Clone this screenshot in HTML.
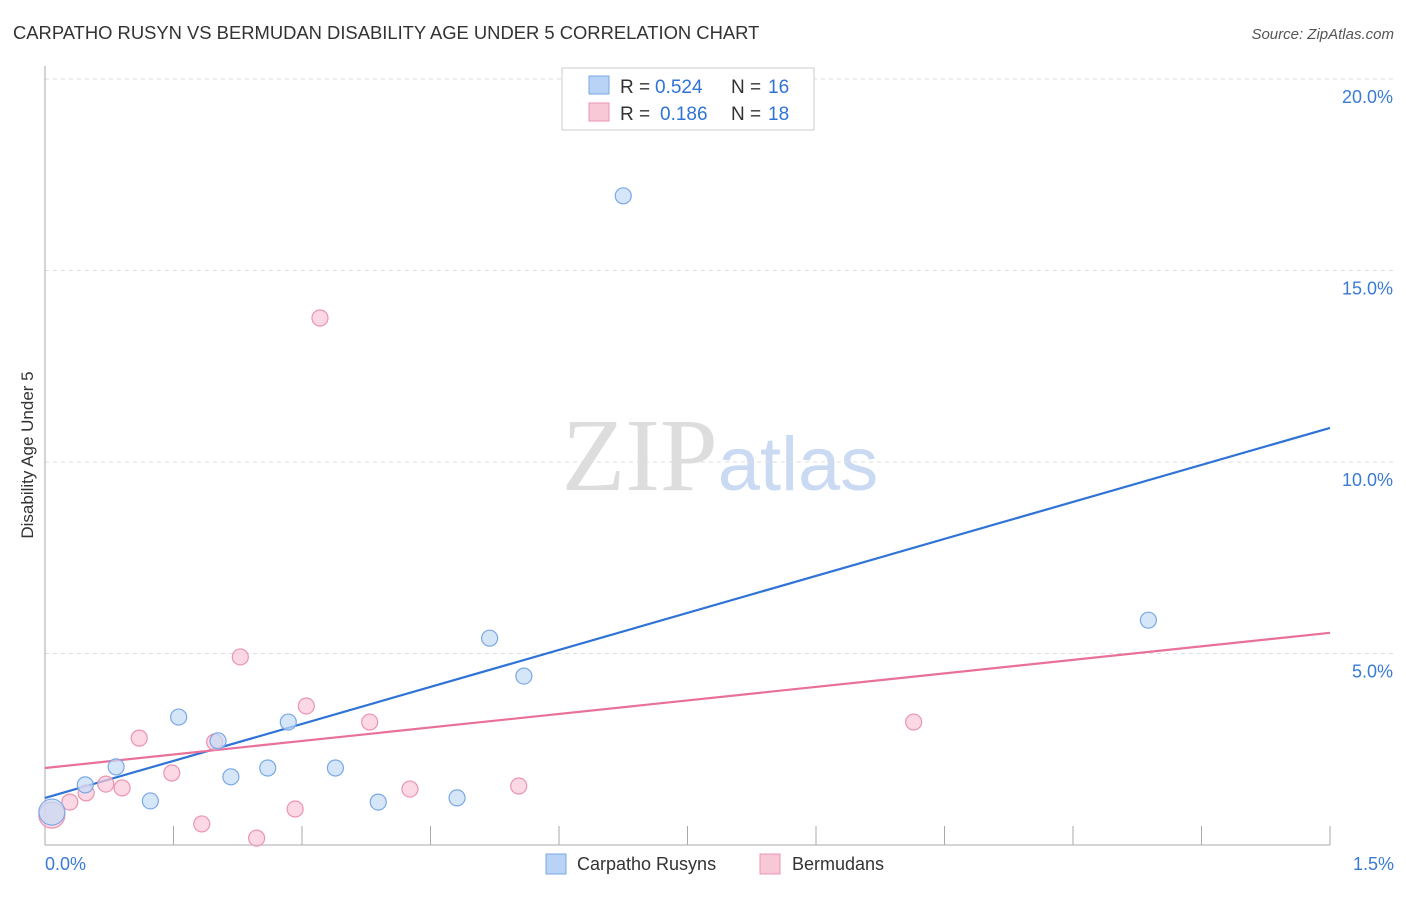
<!DOCTYPE html>
<html><head><meta charset="utf-8"><style>
body{margin:0;background:#fff;font-family:"Liberation Sans",sans-serif;}
svg text{font-family:"Liberation Sans",sans-serif;}
</style></head><body>
<svg id="chart" width="1406" height="892" xmlns="http://www.w3.org/2000/svg">
<text x="13" y="39" font-size="18.4" fill="#333">CARPATHO RUSYN VS BERMUDAN DISABILITY AGE UNDER 5 CORRELATION CHART</text>
<text x="1394" y="39" font-size="15" fill="#555" text-anchor="end" font-style="italic">Source: ZipAtlas.com</text>
<text x="720" y="490" font-size="104" text-anchor="middle"><tspan fill="#ddd" font-family="Liberation Serif">ZIP</tspan><tspan fill="#c9daf2" font-size="76">atlas</tspan></text>
<text transform="translate(33,455) rotate(-90)" font-size="17" fill="#333" text-anchor="middle">Disability Age Under 5</text>
<g id="grid"></g><g id="axes"></g><g id="lines"></g><g id="points"></g>
<g>
<rect x="562" y="68" width="252" height="62" fill="#fff" stroke="#ccc"/>
<rect x="589" y="76" width="20" height="18" fill="#b8d3f5" stroke="#7aa8e6"/>
<text y="93" font-size="19" fill="#333"><tspan x="620">R =</tspan><tspan x="655" fill="#2f73d6">0.524</tspan><tspan x="731">N =</tspan><tspan x="768" fill="#2f73d6">16</tspan></text>
<rect x="589" y="103" width="20" height="18" fill="#f9c8d7" stroke="#ec94b0"/>
<text y="120" font-size="19" fill="#333"><tspan x="620">R =</tspan><tspan x="660" fill="#2f73d6">0.186</tspan><tspan x="731">N =</tspan><tspan x="768" fill="#2f73d6">18</tspan></text>
</g>
<g>
<rect x="546" y="854" width="20" height="20" fill="#b8d3f5" stroke="#7aa8e6"/>
<text x="577" y="870" font-size="18" fill="#333">Carpatho Rusyns</text>
<rect x="760" y="854" width="20" height="20" fill="#f9c8d7" stroke="#ec94b0"/>
<text x="792" y="870" font-size="18" fill="#333">Bermudans</text>
</g>
</svg>
<script>
const blueX=[0.008,0.047,0.083,0.123,0.156,0.202,0.217,0.260,0.284,0.339,0.389,0.481,0.519,0.559,0.675,1.288];
const blueY=[0.86,1.57,2.04,1.15,3.34,2.72,1.78,2.01,3.21,2.01,1.12,1.23,5.40,4.41,16.95,5.87];
const pinkX=[0.008,0.029,0.048,0.071,0.090,0.110,0.148,0.183,0.198,0.228,0.247,0.292,0.305,0.321,0.379,0.426,0.553,1.014];
const pinkY=[0.78,1.12,1.36,1.59,1.49,2.79,1.88,0.55,2.69,4.91,0.18,0.94,3.63,13.76,3.21,1.46,1.54,3.21];
const blueTrend=[1.23,10.89];
const pinkTrend=[2.01,5.54];
const yTicks=[5,10,15,20];
const yTickLabels=["5.0%","10.0%","15.0%","20.0%"];
const xTickLabels=["0.0%","1.5%"];
const NS="http://www.w3.org/2000/svg";
const X0=45,X1=1330,Y0=845,PPY=38.3;
const sx=v=>X0+(v/1.5)*(X1-X0);
const sy=v=>Y0-v*PPY;
function mk(tag,attrs,parent){const e=document.createElementNS(NS,tag);for(const k in attrs)e.setAttribute(k,attrs[k]);document.getElementById(parent).appendChild(e);return e;}
yTicks.forEach((t,i)=>{
 const l=mk('line',{x1:X0,x2:1394,y1:sy(t),y2:sy(t),stroke:'#ddd','stroke-dasharray':'4,4'},'grid');
 
 
 const tx=mk('text',{x:1393,y:sy(t)+24,'font-size':18,fill:'#3a7bd5','text-anchor':'end'},'grid');
 tx.textContent=yTickLabels[i];
 
 
});
const ax=mk('line',{x1:X0,x2:X0,y1:66,y2:Y0,stroke:'#aaa'},'axes');


const bx=mk('line',{x1:X0,x2:1330,y1:Y0,y2:Y0,stroke:'#aaa'},'axes');


for(let i=1;i<=10;i++){
 const xv=i*0.15;
 const t=mk('line',{x1:sx(xv),x2:sx(xv),y1:826,y2:Y0,stroke:'#aaa'},'axes');
 
 
}
[[0,'start',45],[1.5,'end',1394]].forEach((d,i)=>{
 const t=mk('text',{x:d[2],y:870,'font-size':18,fill:'#3a7bd5','text-anchor':d[1]},'axes');
 t.textContent=xTickLabels[i];
 
 
});
function trend(tr,col,name){
 const l=mk('line',{x1:sx(0),y1:sy(tr[0]),x2:sx(1.5),y2:sy(tr[1]),stroke:col,'stroke-width':2.2},'lines');
 
 
}
function pts(xs,ys,fill,stroke,name){
 xs.forEach((x,i)=>{
  const r=i===0?13:8;
  const c=mk('circle',{cx:sx(x),cy:sy(ys[i]),r:r,fill:fill,stroke:stroke,'stroke-width':1.2,'fill-opacity':0.7},'points');
  
  
 });
}
pts(pinkX,pinkY,'#f9c8d7','#ec94b0','bermudan-point');
pts(blueX,blueY,'#c4dbf7','#7aa8e6','carpatho-rusyn-point');
trend(blueTrend,'#2f73d6','carpatho-rusyn-trendline');
trend(pinkTrend,'#e8709a','bermudan-trendline');
</script>
</body></html>
